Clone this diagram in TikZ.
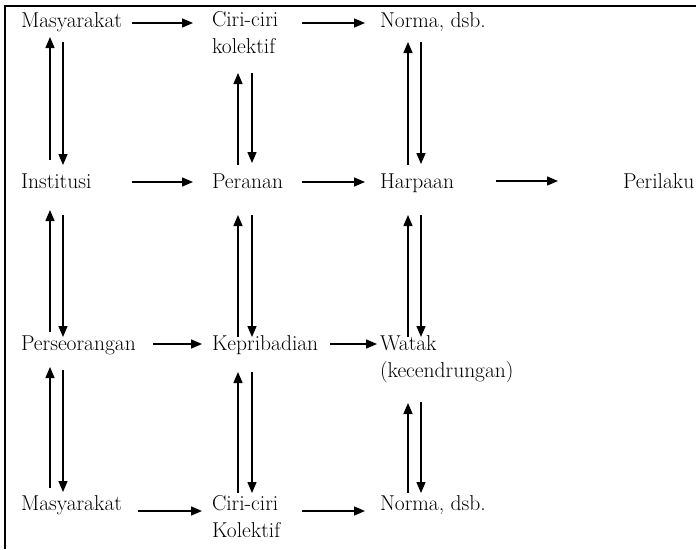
\documentclass[tikz,border=0pt]{standalone}
\usepackage{fontspec}
\usetikzlibrary{arrows.meta}
\begin{document}
\begin{tikzpicture}[x=1pt,y=-1pt,
  lbl/.style={anchor=base west,inner sep=0pt,outer sep=0pt,align=left,
    font=\fontsize{21.5}{26.5}\selectfont},
  arr/.style={line width=1.4pt,-{Triangle[length=11pt,width=9pt]}},
  frameline/.style={line width=2pt}]
\useasboundingbox (0,0) rectangle (696,549);
% open frame: top edge and left edge
\draw[frameline] (696,6) -- (5,6) -- (5,549);

% row 1 (two-line labels are placed by the baseline of their last line)
\node[lbl] (m1) at (21,27) {Masyarakat};
\node[lbl] (c1) at (212,53) {Ciri-ciri\\kolektif};
\node[lbl] (n1) at (380,27) {Norma, dsb.};
% row 2
\node[lbl] (i2) at (21,188) {Institusi};
\node[lbl] (p2) at (212,188) {Peranan};
\node[lbl] (h2) at (380,188) {Harpaan};
\node[lbl] (b2) at (623,188) {Perilaku};
% row 3
\node[lbl] (s3) at (21,350) {Perseorangan};
\node[lbl] (k3) at (212,350) {Kepribadian};
\node[lbl] (w3) at (380,377) {Watak\\(kecendrungan)};
% row 4
\node[lbl] (m4) at (21,510) {Masyarakat};
\node[lbl] (c4) at (212,537) {Ciri-ciri\\Kolektif};
\node[lbl] (n4) at (380,510) {Norma, dsb.};

% horizontal connectors
\draw[arr] ([xshift=111pt,yshift=4pt]m1.base west) -- ([xshift=-19pt,yshift=30pt]c1.base west);
\draw[arr] ([xshift=90pt,yshift=30pt]c1.base west) -- ([xshift=-15pt,yshift=4pt]n1.base west);
\draw[arr] ([xshift=111pt,yshift=6pt]i2.base west) -- ([xshift=-19pt,yshift=6pt]p2.base west);
\draw[arr] ([xshift=90pt,yshift=6pt]p2.base west) -- ([xshift=-15pt,yshift=6pt]h2.base west);
\draw[arr] ([xshift=116pt,yshift=7pt]h2.base west) -- ([xshift=-65pt,yshift=7pt]b2.base west);
\draw[arr] ([xshift=132pt,yshift=6pt]s3.base west) -- ([xshift=-10pt,yshift=6pt]k3.base west);
\draw[arr] ([xshift=118pt,yshift=6pt]k3.base west) -- ([xshift=-3pt,yshift=33pt]w3.base west);
\draw[arr] ([xshift=117pt,yshift=-1pt]m4.base west) -- ([xshift=-10pt,yshift=26pt]c4.base west);
\draw[arr] ([xshift=90pt,yshift=26pt]c4.base west) -- ([xshift=-15pt,yshift=-1pt]n4.base west);

% vertical connector pairs, rows 1 and 2
\draw[arr] ([xshift=29pt,yshift=28pt]i2.base west) -- ([xshift=29pt,yshift=-10pt]m1.base west);
\draw[arr] ([xshift=42pt,yshift=-15pt]m1.base west) -- ([xshift=42pt,yshift=23pt]i2.base west);
\draw[arr] ([xshift=26pt,yshift=23pt]p2.base west) -- ([xshift=26pt,yshift=-20pt]c1.base west);
\draw[arr] ([xshift=40pt,yshift=-20pt]c1.base west) -- ([xshift=40pt,yshift=25pt]p2.base west);
\draw[arr] ([xshift=28pt,yshift=23pt]h2.base west) -- ([xshift=28pt,yshift=-15pt]n1.base west);
\draw[arr] ([xshift=41pt,yshift=-15pt]n1.base west) -- ([xshift=41pt,yshift=24pt]h2.base west);

% vertical connector pairs, rows 2 and 3
\draw[arr] ([xshift=29pt,yshift=18pt]s3.base west) -- ([xshift=29pt,yshift=-22pt]i2.base west);
\draw[arr] ([xshift=42pt,yshift=-27pt]i2.base west) -- ([xshift=42pt,yshift=13pt]s3.base west);
\draw[arr] ([xshift=26pt,yshift=13pt]k3.base west) -- ([xshift=26pt,yshift=-27pt]p2.base west);
\draw[arr] ([xshift=40pt,yshift=-27pt]p2.base west) -- ([xshift=40pt,yshift=13pt]k3.base west);
\draw[arr] ([xshift=28pt,yshift=40pt]w3.base west) -- ([xshift=28pt,yshift=-27pt]h2.base west);
\draw[arr] ([xshift=41pt,yshift=-27pt]h2.base west) -- ([xshift=41pt,yshift=40pt]w3.base west);

% vertical connector pairs, rows 3 and 4
\draw[arr] ([xshift=29pt,yshift=22pt]m4.base west) -- ([xshift=29pt,yshift=-17pt]s3.base west);
\draw[arr] ([xshift=42pt,yshift=-20pt]s3.base west) -- ([xshift=42pt,yshift=18pt]m4.base west);
\draw[arr] ([xshift=26pt,yshift=44pt]c4.base west) -- ([xshift=26pt,yshift=-22pt]k3.base west);
\draw[arr] ([xshift=40pt,yshift=-22pt]k3.base west) -- ([xshift=40pt,yshift=44pt]c4.base west);
\draw[arr] ([xshift=28pt,yshift=17pt]n4.base west) -- ([xshift=28pt,yshift=-26pt]w3.base west);
\draw[arr] ([xshift=41pt,yshift=-25pt]w3.base west) -- ([xshift=41pt,yshift=17pt]n4.base west);
\end{tikzpicture}
\end{document}
